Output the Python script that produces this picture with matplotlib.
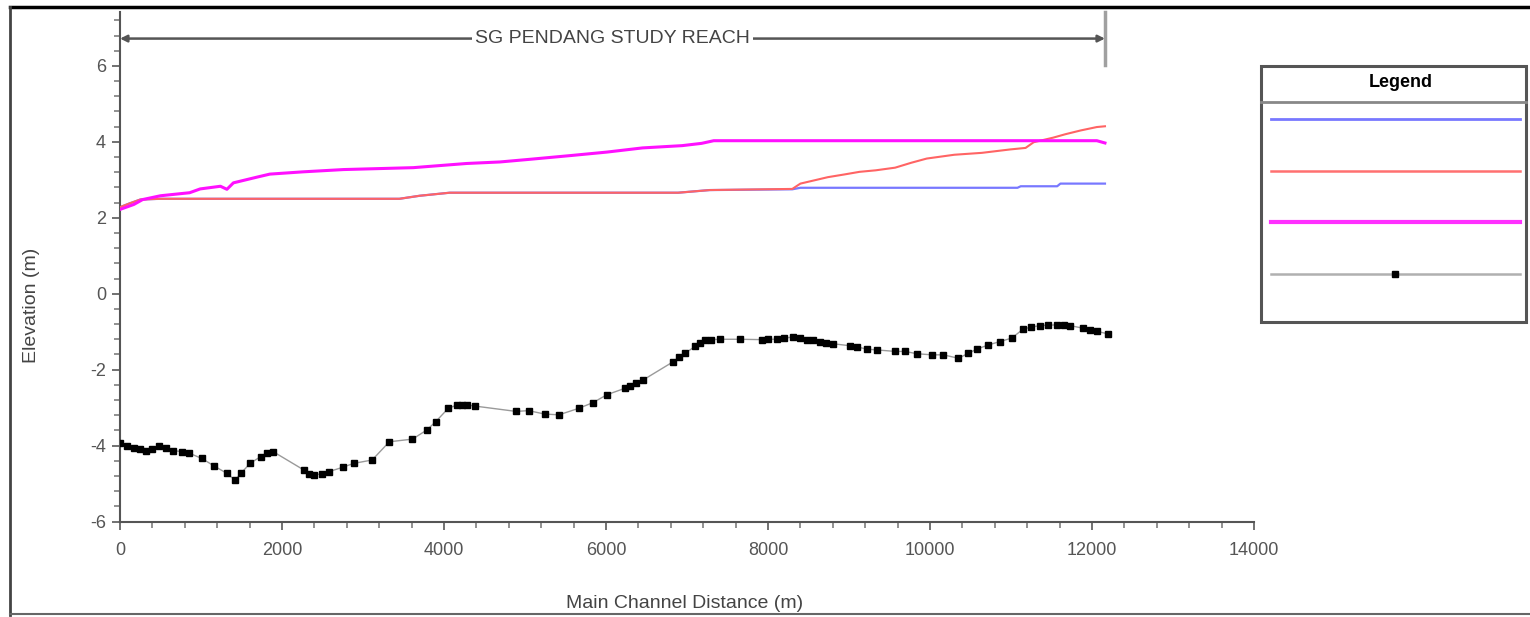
import matplotlib
matplotlib.use("Agg")
import matplotlib.pyplot as plt
from matplotlib.lines import Line2D
from matplotlib.patches import Rectangle
from matplotlib.ticker import MultipleLocator

plt.rcParams['font.family'] = ['Liberation Sans', 'DejaVu Sans']
plt.rcParams['axes.unicode_minus'] = False

# water surface profiles (main channel distance m, elevation m)
ws_blue_x = [0, 120, 250, 500, 3450, 3700, 4070, 6890, 7280, 8300, 8400, 11080, 11120, 11570, 11610, 12160]
ws_blue_y = [2.28, 2.38, 2.48, 2.50, 2.50, 2.58, 2.66, 2.66, 2.73, 2.75, 2.79, 2.79, 2.83, 2.83, 2.90, 2.90]

ws_red_x = [0, 120, 250, 500, 3450, 3700, 4070, 6890, 7280, 8300, 8400, 8740, 8940, 9130, 9330, 9570,
            9770, 9960, 10300, 10640, 10990, 11180, 11280, 11520, 11670, 11860, 12060, 12160]
ws_red_y = [2.28, 2.38, 2.48, 2.50, 2.50, 2.58, 2.66, 2.66, 2.73, 2.76, 2.90, 3.07, 3.14, 3.21, 3.25, 3.32,
            3.45, 3.56, 3.66, 3.71, 3.80, 3.84, 3.99, 4.11, 4.20, 4.30, 4.39, 4.41]

ws_mag_x = [0, 170, 280, 500, 860, 990, 1240, 1320, 1400, 1690, 1850, 2260, 2760, 3620, 4280, 4690,
            5060, 5570, 6010, 6450, 6940, 7180, 7330, 12060, 12160]
ws_mag_y = [2.22, 2.35, 2.48, 2.58, 2.66, 2.76, 2.83, 2.75, 2.92, 3.07, 3.15, 3.21, 3.27, 3.32, 3.43, 3.47,
            3.54, 3.64, 3.73, 3.84, 3.90, 3.96, 4.03, 4.03, 3.97]

# ground / channel bed
bed_x = [0, 90, 172, 250, 326, 400, 480, 570, 657, 760, 855, 1010, 1164, 1318, 1420, 1494, 1605, 1737,
         1820, 1891, 2267, 2330, 2399, 2490, 2575, 2752, 2884, 3113, 3325, 3611, 3788, 3898, 4052, 4162,
         4220, 4280, 4383, 4889, 5044, 5242, 5419, 5662, 5838, 6012, 6235, 6300, 6367, 6460, 6831, 6900,
         6975, 7099, 7160, 7222, 7300, 7407, 7654, 7922, 8000, 8107, 8200, 8313, 8400, 8478, 8560, 8642,
         8720, 8807, 9012, 9100, 9218, 9342, 9568, 9691, 9835, 10021, 10165, 10350, 10473, 10576, 10720,
         10864, 11008, 11152, 11250, 11358, 11460, 11564, 11650, 11728, 11893, 11980, 12058, 12202]
bed_y = [-3.94, -4.02, -4.07, -4.10, -4.13, -4.08, -4.00, -4.06, -4.13, -4.16, -4.20, -4.34, -4.54,
         -4.73, -4.91, -4.73, -4.47, -4.29, -4.20, -4.16, -4.64, -4.74, -4.78, -4.74, -4.69, -4.57,
         -4.47, -4.38, -3.90, -3.83, -3.59, -3.37, -3.02, -2.93, -2.92, -2.93, -2.96, -3.10, -3.08,
         -3.17, -3.19, -3.02, -2.87, -2.66, -2.49, -2.43, -2.36, -2.27, -1.79, -1.68, -1.57, -1.39,
         -1.30, -1.23, -1.21, -1.20, -1.20, -1.21, -1.20, -1.20, -1.17, -1.14, -1.17, -1.21, -1.23,
         -1.26, -1.29, -1.32, -1.37, -1.40, -1.46, -1.48, -1.52, -1.52, -1.58, -1.61, -1.61, -1.70,
         -1.57, -1.46, -1.35, -1.26, -1.17, -0.93, -0.88, -0.84, -0.83, -0.82, -0.83, -0.84, -0.91,
         -0.95, -0.99, -1.06]

reach_start = 0
reach_end = 12160
reach_label = "SG PENDANG STUDY REACH"

W, H = 1530, 617
fig = plt.figure(figsize=(W / 100, H / 100), dpi=100)
ax = fig.add_axes([120 / W, 1 - 521.5 / H, 1134 / W, 509.5 / H])

ax.plot(ws_blue_x, ws_blue_y, color='#7878ff', lw=1.6, zorder=2)
ax.plot(ws_red_x, ws_red_y, color='#ff6464', lw=1.5, zorder=3)
ax.plot(ws_mag_x, ws_mag_y, color='#ff10ff', lw=2.2, zorder=4)
ax.plot(bed_x, bed_y, color='#9a9a9a', lw=1.0, marker='s', ms=5,
        mfc='black', mec='black', zorder=5)

ax.set_xlim(0, 14000)
ax.set_ylim(-6, 7.42)
ax.xaxis.set_major_locator(MultipleLocator(2000))
ax.xaxis.set_minor_locator(MultipleLocator(400))
ax.yaxis.set_major_locator(MultipleLocator(2))
ax.yaxis.set_minor_locator(MultipleLocator(0.4))

for s in ['top', 'right']:
    ax.spines[s].set_visible(False)
for s in ['left', 'bottom']:
    ax.spines[s].set_color('#555555')
    ax.spines[s].set_linewidth(1.5)

ax.tick_params(which='major', length=6, width=1.3, color='#666666', labelsize=13,
               labelcolor='#555555')
ax.tick_params(axis='y', which='major', pad=4)
ax.tick_params(axis='x', which='major', pad=9)
ax.tick_params(which='minor', length=4, width=1.3, color='#888888')

ax.set_xlabel("Main Channel Distance (m)", fontsize=14, color='#444444', va='center')
ax.set_ylabel("Elevation (m)", fontsize=14, color='#444444', va='center')
ax.xaxis.set_label_coords((685 - 120) / 1134, (521.5 - 604) / 509.5)
ax.yaxis.set_label_coords((32 - 120) / 1134, (521.5 - 305) / 509.5)

# study reach marker
ax.annotate('', xy=(reach_start, 6.72), xytext=(reach_end, 6.72),
            arrowprops=dict(arrowstyle='<|-|>', color='#555555', lw=1.8,
                            mutation_scale=10, shrinkA=0, shrinkB=0))
ax.text((reach_start + reach_end) / 2, 6.72, reach_label, ha='center', va='center',
        fontsize=14, color='#444444', bbox=dict(fc='white', ec='none', pad=2))
ax.plot([reach_end, reach_end], [6.02, 7.42], color='#a0a0a0', lw=2.5, clip_on=False)

# legend: blank labels, frame drawn separately
handles = [Line2D([], [], color='#7878ff', lw=2),
           Line2D([], [], color='#ff7070', lw=1.8),
           Line2D([], [], color='#ff30ff', lw=3),
           Line2D([], [], color='#b0b0b0', lw=1.8, marker='s', ms=4, mfc='black', mec='black')]
leg = fig.legend(handles, [' ', ' ', ' ', ' '], loc='upper left',
                 bbox_to_anchor=(1271 / W, 1 - 74 / H), frameon=False,
                 fontsize=30, handlelength=5.97, handletextpad=0, borderpad=0,
                 borderaxespad=0, labelspacing=0.28, title='Legend',
                 title_fontproperties={'weight': 'bold', 'size': 13})

fig.add_artist(Rectangle((1261 / W, 1 - 322 / H), 265 / W, 256 / H, transform=fig.transFigure,
                         fill=False, ec='#555555', lw=2.2))
fig.add_artist(Line2D([1261 / W, 1526 / W], [1 - 102 / H, 1 - 102 / H],
                      transform=fig.transFigure, color='#888888', lw=2))

# outer frame of the figure
fig.add_artist(Line2D([10 / W, 1], [1 - 7 / H, 1 - 7 / H], transform=fig.transFigure,
                      color='black', lw=2.5))
fig.add_artist(Line2D([10 / W, 10 / W], [1 - 7 / H, 2 / H], transform=fig.transFigure,
                      color='#444444', lw=2))
fig.add_artist(Line2D([10 / W, 1], [3 / H, 3 / H], transform=fig.transFigure,
                      color='#666666', lw=1.5))

fig.savefig('out.png', dpi=100)
plt.close(fig)
